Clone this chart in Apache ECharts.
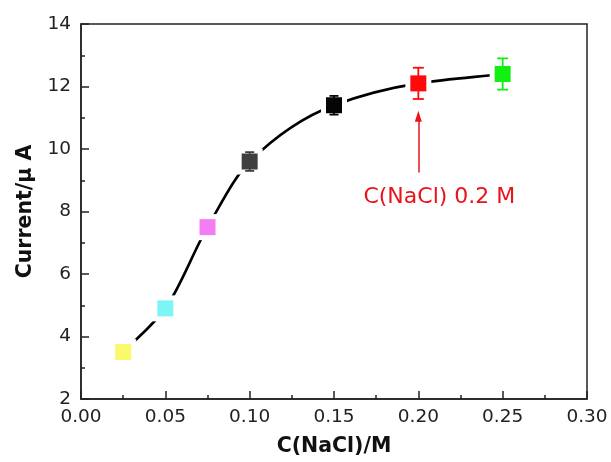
<!DOCTYPE html>
<html>
<head>
<meta charset="utf-8">
<script src="https://cdn.jsdelivr.net/npm/echarts@6/dist/echarts.min.js"></script>
<style>
  html, body { margin: 0; padding: 0; background: #fff; }
  #chart { width: 611px; height: 462px; }
</style>
</head>
<body>
<div id="chart"></div>
<script>
// NaCl concentration (M) and measured current (µA) with error
const concentrations = [0.025, 0.05, 0.075, 0.10, 0.15, 0.20, 0.25];
const currents       = [3.5, 4.9, 7.5, 9.6, 11.4, 12.1, 12.4];
const currentErrors  = [0.1, 0.1, 0.1, 0.3, 0.3, 0.5, 0.5];
const pointColors    = ['#f9f96c', '#7ff4f4', '#f47cf4', '#3f3f3f', '#050505', '#ff0a0a', '#12f012'];

// Annotation: arrow pointing at the 0.2 M point
const arrowX = 0.20;
const arrowFrom = 9.25;
const arrowTo = 11.05;
const annotationText = 'C(NaCl) 0.2 M';
const annotationY = 8.45;

const xTitle = 'C(NaCl)/M';
const yTitle = 'Current/\u03bc A';

const FONT = 'DejaVu Sans';
const points = concentrations.map((x, i) => [x, currents[i]]);
const errorData = concentrations.map((x, i) => [x, currents[i] - currentErrors[i], currents[i] + currentErrors[i], i]);

// Monotone cubic (PCHIP) tangents in pixel space
function pchipTangents(P) {
  const n = P.length, h = [], d = [], m = new Array(n);
  for (let k = 0; k < n - 1; k++) {
    h[k] = P[k + 1][0] - P[k][0];
    d[k] = (P[k + 1][1] - P[k][1]) / h[k];
  }
  m[0] = d[0];
  m[n - 1] = d[n - 2];
  for (let k = 1; k < n - 1; k++) {
    if (d[k - 1] * d[k] <= 0) { m[k] = 0; continue; }
    const w1 = 2 * h[k] + h[k - 1], w2 = h[k] + 2 * h[k - 1];
    m[k] = (w1 + w2) / (w1 / d[k - 1] + w2 / d[k]);
  }
  return m;
}

const chart = echarts.init(document.getElementById('chart'), null, { renderer: 'canvas' });

const axisCommon = {
  axisLine: { show: true, onZero: false, lineStyle: { color: '#222', width: 1.5 } },
  axisTick: { show: true, inside: true, length: 8, lineStyle: { color: '#222', width: 1.5 } },
  minorTick: { show: true, splitNumber: 2, length: 4, lineStyle: { color: '#222', width: 1.5 } },
  splitLine: { show: false },
  nameLocation: 'middle',
  nameTextStyle: { fontFamily: FONT, fontWeight: 'bold', fontSize: 20.5, color: '#111' }
};

chart.setOption({
  animation: false,
  grid: { left: 81, right: 24, top: 24, bottom: 63, show: true, borderColor: '#222', borderWidth: 1.5, backgroundColor: 'transparent' },
  xAxis: Object.assign({}, axisCommon, {
    type: 'value', min: 0, max: 0.30, interval: 0.05,
    name: xTitle, nameGap: 37,
    axisLabel: { margin: 9, fontFamily: FONT, fontSize: 18.5, color: '#222', formatter: v => v.toFixed(2) }
  }),
  yAxis: Object.assign({}, axisCommon, {
    type: 'value', min: 2, max: 14, interval: 2,
    name: yTitle, nameGap: 40, nameRotate: 90,
    axisLabel: { margin: 10, fontFamily: FONT, fontSize: 18.5, color: '#222' }
  }),
  series: [
    {
      // smooth trend curve through the measured points
      type: 'custom', data: points, z: 1, silent: true,
      renderItem: (params, api) => {
        const i = params.dataIndex;
        if (i >= points.length - 1) return null;
        const P = points.map(p => api.coord(p));
        const m = pchipTangents(P);
        const a = P[i], b = P[i + 1], h = b[0] - a[0];
        return {
          type: 'bezierCurve',
          shape: {
            x1: a[0], y1: a[1], x2: b[0], y2: b[1],
            cpx1: a[0] + h / 3, cpy1: a[1] + m[i] * h / 3,
            cpx2: b[0] - h / 3, cpy2: b[1] - m[i + 1] * h / 3
          },
          style: { stroke: '#000', lineWidth: 2.6, fill: null }
        };
      }
    },
    {
      // white gaps between the curve and the symbols, plus the annotation
      type: 'scatter', data: points, symbol: 'rect', symbolSize: 26,
      itemStyle: { color: '#fff', opacity: 1 }, z: 2, silent: true,
      markLine: {
        silent: true, symbol: ['none', 'triangle'], symbolSize: [7, 11],
        lineStyle: { color: '#e8141c', width: 1.5, type: 'solid' },
        label: { show: false },
        data: [[{ coord: [arrowX, arrowFrom] }, { coord: [arrowX, arrowTo] }]]
      },
      markPoint: {
        silent: true, symbol: 'rect', symbolSize: 0,
        label: { show: true, position: 'inside', offset: [21, 0], formatter: annotationText,
          fontFamily: FONT, fontSize: 22, color: '#e8141c' },
        data: [{ coord: [arrowX, annotationY] }]
      }
    },
    {
      // error bars (cap width narrower for the small ones)
      type: 'custom', z: 3, silent: true,
      data: errorData,
      renderItem: (params, api) => {
        const x = api.value(0);
        const err = api.value(2) - api.value(1);
        const lo = api.coord([x, api.value(1)]);
        const hi = api.coord([x, api.value(2)]);
        const color = pointColors[api.value(3)];
        const half = err > 0.8 ? 5.5 : 4.5;
        const style = { stroke: color, lineWidth: 1.8 };
        return {
          type: 'group',
          children: [
            { type: 'line', shape: { x1: lo[0], y1: lo[1], x2: hi[0], y2: hi[1] }, style },
            { type: 'line', shape: { x1: lo[0] - half, y1: lo[1], x2: lo[0] + half, y2: lo[1] }, style },
            { type: 'line', shape: { x1: hi[0] - half, y1: hi[1], x2: hi[0] + half, y2: hi[1] }, style }
          ]
        };
      }
    },
    {
      // measurement symbols
      type: 'scatter', data: points, symbol: 'rect', symbolSize: 16, z: 4,
      itemStyle: { color: p => pointColors[p.dataIndex], opacity: 1 }
    }
  ]
});
</script>
</body>
</html>
